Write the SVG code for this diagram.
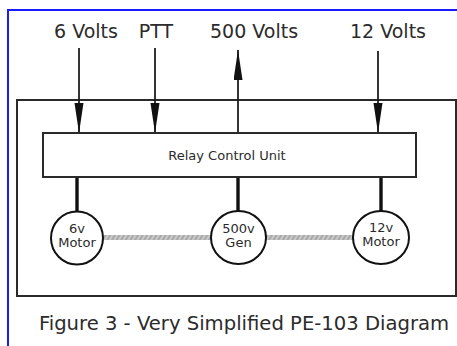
<svg xmlns="http://www.w3.org/2000/svg" width="457" height="346" viewBox="0 0 457 346">
  <style>
    .lbl { font-family: "DejaVu Sans", Verdana, sans-serif; fill: #2b2b2b; text-anchor: middle; }
    .top { font-size: 19px; }
    .small { font-size: 13px; }
    .cap { font-size: 19.6px; }
    .wire { stroke: #1e1e1e; stroke-width: 1.8; fill: none; }
    .link { stroke: #111; stroke-width: 3.4; fill: none; }
    .box { fill: #fff; stroke: #2a2a2a; stroke-width: 2; }
    .unit { fill: #fff; stroke: #111; stroke-width: 2; }
  </style>
  <defs>
    <marker id="head" markerUnits="userSpaceOnUse" markerWidth="30" markerHeight="10" refX="30" refY="4.5" orient="auto">
      <path d="M0,0 L30,4.5 L0,9 z" fill="#111"/>
    </marker>
    <pattern id="shaft" patternUnits="userSpaceOnUse" width="4" height="4" patternTransform="rotate(30)">
      <rect width="4" height="4" fill="#c9c9c9"/>
      <rect width="2" height="4" fill="#a9a9a9"/>
    </pattern>
  </defs>

  <rect x="0" y="0" width="457" height="346" fill="#fff"/>
  <!-- blue frame -->
  <rect x="8" y="10" width="470" height="360" fill="none" stroke="#1a1aff" stroke-width="2"/>

  <!-- enclosure -->
  <rect id="enclosure" class="box" x="17" y="100" width="439" height="196" fill="none"/>

  <!-- supply labels -->
  <g id="lbl-6v"><text class="lbl top" x="86" y="38">6 Volts</text></g>
  <g id="lbl-ptt"><text class="lbl top" x="156" y="38">PTT</text></g>
  <g id="lbl-500v"><text class="lbl top" x="254" y="38">500 Volts</text></g>
  <g id="lbl-12v"><text class="lbl top" x="388" y="38">12 Volts</text></g>

  <!-- shafts between machines -->
  <g id="shafts">
    <rect x="102" y="235" width="110" height="5" fill="url(#shaft)"/>
    <rect x="265" y="235" width="89" height="5" fill="url(#shaft)"/>
  </g>

  <!-- connectors -->
  <g id="connectors">
    <line class="wire" x1="79" y1="48" x2="79" y2="133" marker-end="url(#head)"/>
    <line class="wire" x1="155" y1="48" x2="155" y2="133" marker-end="url(#head)"/>
    <line class="wire" x1="238" y1="133" x2="238" y2="50" marker-end="url(#head)"/>
    <line class="wire" x1="378" y1="51" x2="378" y2="133" marker-end="url(#head)"/>
    <line class="link" x1="77" y1="177" x2="77" y2="211"/>
    <line class="link" x1="238" y1="177" x2="238" y2="211"/>
    <line class="link" x1="381" y1="177" x2="381" y2="211"/>
  </g>

  <!-- relay control unit -->
  <g id="relay">
    <rect class="box" x="43" y="133" width="373" height="44"/>
    <text class="lbl small" x="227" y="160">Relay Control Unit</text>
  </g>

  <!-- machines -->
  <g id="motor-6v">
    <ellipse class="unit" cx="77" cy="238" rx="26" ry="26.5"/>
    <text class="lbl small" x="77" y="233">6v</text>
    <text class="lbl small" x="77" y="247">Motor</text>
  </g>
  <g id="gen-500v">
    <ellipse class="unit" cx="238.5" cy="237.5" rx="27.5" ry="26.5"/>
    <text class="lbl small" x="238.5" y="233">500v</text>
    <text class="lbl small" x="238.5" y="247">Gen</text>
  </g>
  <g id="motor-12v">
    <ellipse class="unit" cx="381" cy="237.5" rx="28" ry="26.5"/>
    <text class="lbl small" x="381" y="232">12v</text>
    <text class="lbl small" x="381" y="246">Motor</text>
  </g>

  <!-- caption -->
  <g id="caption"><text class="lbl cap" x="244" y="330">Figure 3 - Very Simplified PE-103 Diagram</text></g>
</svg>
